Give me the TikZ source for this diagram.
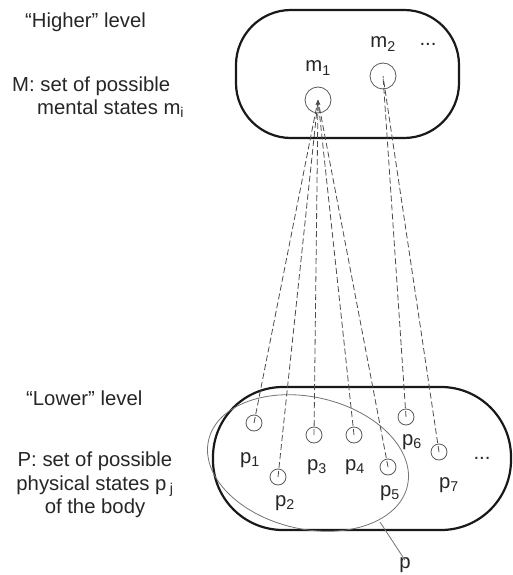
\documentclass[tikz,border=0pt]{standalone}
\usepackage{fontspec}
\setmainfont{Liberation Sans}
\usetikzlibrary{arrows.meta}
\begin{document}
\begin{tikzpicture}[x=1pt,y=-1pt,
  txt/.style={font=\fontsize{20.3}{23.5}\selectfont, text=black!85, inner sep=0pt},
  setbox/.style={draw=black!90, line width=2.2pt, inner sep=0pt},
  mstate/.style={circle, draw=black!65, line width=0.8pt, minimum size=26pt, inner sep=0pt},
  pstate/.style={circle, draw=black!65, line width=0.8pt, minimum size=16pt, inner sep=0pt},
  link/.style={draw=black!70, dash pattern=on 6pt off 3pt, line width=0.8pt},
  thin gray/.style={draw=black!55, line width=0.8pt}]
\useasboundingbox (0,0) rectangle (513,575);

% sets
\node[setbox, rounded corners=55pt, minimum width=223pt, minimum height=128pt] (M) at (347.5,74) {};
\node[setbox, rounded corners=70pt, minimum width=298pt, minimum height=143pt] (P) at (362,458.5) {};

% subset p
\coordinate (pc) at (308,463);
\draw[thin gray, rotate around={-13:(pc)}] (pc) ellipse [x radius=102, y radius=66];

% mental states
\node[mstate] (m1) at (318,100) {};
\node[mstate] (m2) at (383,76) {};
\node[txt] (m1l) at (318,68) {m\textsubscript{1}};
\node[txt] (m2l) at (383,44) {m\textsubscript{2}};
\node[txt] (mdots) at (428,44) {...};

% physical states
\node[pstate] (p1) at (254,423) {};
\node[pstate] (p2) at (278,477) {};
\node[pstate] (p3) at (314,435) {};
\node[pstate] (p4) at (354,435) {};
\node[pstate] (p5) at (388,467) {};
\node[pstate] (p6) at (406,417) {};
\node[pstate] (p7) at (439,452) {};
\node[txt] (p1l) at (250,460) {p\textsubscript{1}};
\node[txt] (p2l) at (285,503) {p\textsubscript{2}};
\node[txt] (p3l) at (317,467) {p\textsubscript{3}};
\node[txt] (p4l) at (355,467) {p\textsubscript{4}};
\node[txt] (p5l) at (390,493) {p\textsubscript{5}};
\node[txt] (p6l) at (412,442) {p\textsubscript{6}};
\node[txt] (p7l) at (449,485) {p\textsubscript{7}};
\node[txt] (pdots) at (482,458) {...};

% links
\foreach \p in {p1,p2,p3,p4,p5}
  \draw[link, -{Stealth[length=5pt,width=3pt]}] (\p.center) -- (m1.center);
\foreach \p in {p6,p7}
  \draw[link] (\p.center) -- (m2.center);

% label p
\coordinate (pe) at (380,522);
\node[txt] (pl) at (405,565) {p};
\draw[thin gray] (pe) -- ([yshift=-3pt]pl.north);

% left texts
\node[txt, anchor=west] (hi) at (25,22) {\char"201C Higher\char"201D\ level};
\node[txt, anchor=west, align=left] (Mt) at (12,97) {M: set of possible\\\hspace{25pt}mental states m\textsubscript{i}};
\node[txt, anchor=west] (lo) at (26,398) {\char"201C Lower\char"201D\ level};
\node[txt, align=center] (Pt) at (95,485) {P: set of possible\\physical states p\,\textsubscript{j}\\of the body};
\end{tikzpicture}
\end{document}
